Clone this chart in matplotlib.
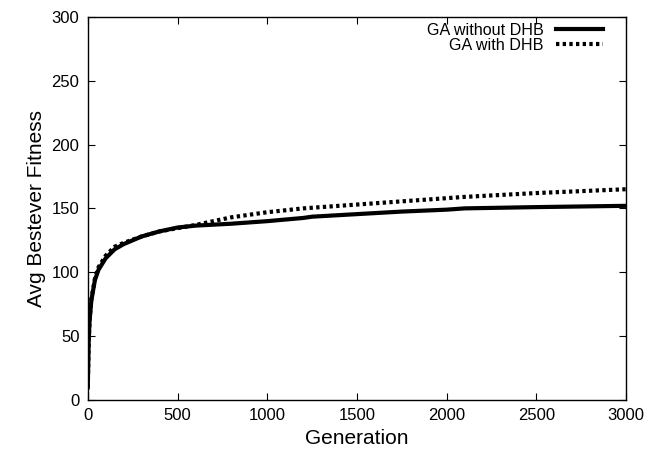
import matplotlib
matplotlib.use("Agg")
import matplotlib.pyplot as plt

plt.rcParams['font.family'] = ['Liberation Sans', 'DejaVu Sans']

# values
generation = [0, 5, 10, 20, 40, 60, 100, 150, 200, 300, 400, 500, 600, 800,
              1000, 1200, 1250, 1500, 1750, 2000, 2100, 2500, 3000]
ga_without_dhb = [10, 45, 62, 78, 94, 102, 111, 118, 122, 128, 132, 135, 136.5, 138,
                  140, 142.5, 143.5, 145.5, 147.5, 149, 150, 151, 152]
ga_with_dhb = [10, 45, 63, 79, 95, 104, 113, 120, 123, 128, 132, 134.5, 137, 143,
               147, 150, 150.5, 153, 155.5, 158, 159, 162, 165]

fig = plt.figure(figsize=(6.55, 4.53), dpi=100)
ax = fig.add_axes([0.134, 0.117, 0.822, 0.846])

ax.plot(generation, ga_without_dhb, color='black', lw=3, label='GA without DHB')
ax.plot(generation, ga_with_dhb, color='black', lw=3, linestyle=(0, (0.8, 0.8)),
        label='GA with DHB')

ax.set_xlim(0, 3000)
ax.set_ylim(0, 300)
ax.set_xticks(range(0, 3001, 500))
ax.set_yticks(range(0, 301, 50))
ax.tick_params(direction='in', top=True, right=True, labelsize=12, length=5, pad=6)
for s in ax.spines.values():
    s.set_linewidth(1.0)
ax.set_xlabel('Generation', fontsize=15)
ax.set_ylabel('Avg Bestever Fitness', fontsize=15)

ax.legend(loc='upper right', bbox_to_anchor=(0.957, 0.985), frameon=False,
          markerfirst=False, fontsize=11.6, handlelength=2.9, handletextpad=0.8,
          labelspacing=0.0, borderpad=0, borderaxespad=0)

fig.savefig('out.png', dpi=100)
